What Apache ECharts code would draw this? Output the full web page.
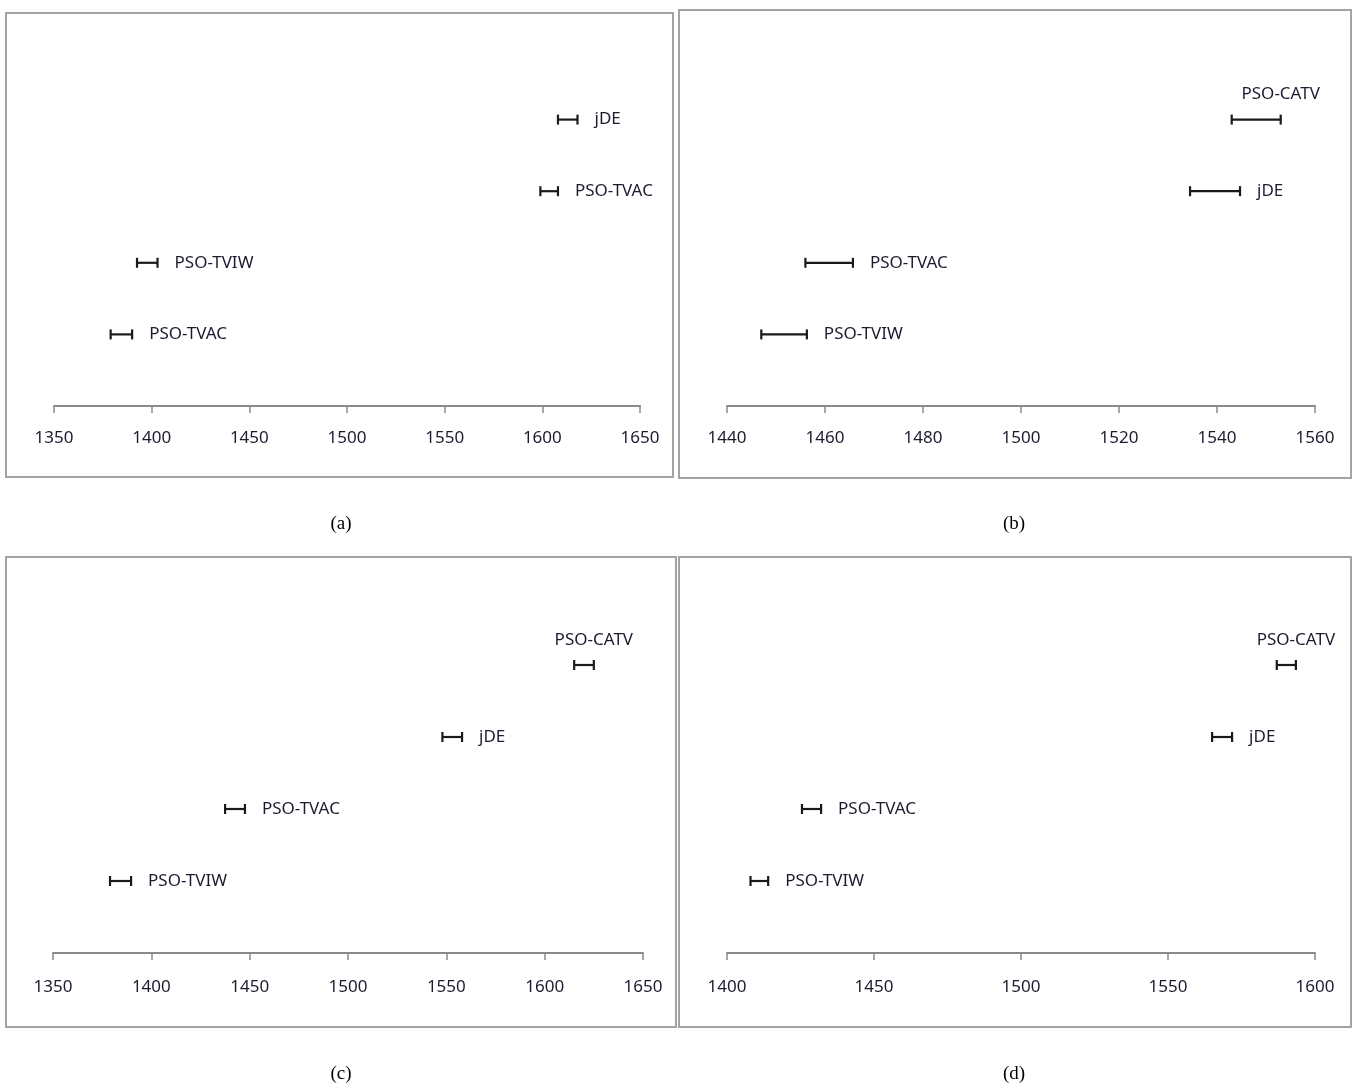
<!DOCTYPE html>
<html>
<head>
<meta charset="utf-8">
<script src="https://cdn.jsdelivr.net/npm/echarts@6/dist/echarts.min.js"></script>
<style>
  html, body { margin: 0; padding: 0; background: #fff; }
  #chart { width: 1354px; height: 1088px; }
</style>
</head>
<body>
<div id="chart"></div>
<script>
// Confidence intervals of the mean result for each algorithm, four test cases.
// Rows are listed bottom to top (row 1 sits just above the axis).

// (a)
const namesA = ['PSO-TVAC', 'PSO-TVIW', 'PSO-TVAC', 'jDE'];
const lowA   = [1379, 1392.5, 1599, 1608];
const highA  = [1390, 1403, 1608, 1618];
const ticksA = { min: 1350, max: 1650, interval: 50 };

// (b)
const namesB = ['PSO-TVIW', 'PSO-TVAC', 'jDE', 'PSO-CATV'];
const lowB   = [1447, 1456, 1534.5, 1543];
const highB  = [1456.3, 1465.7, 1544.7, 1553];
const ticksB = { min: 1440, max: 1560, interval: 20 };

// (c)
const namesC = ['PSO-TVIW', 'PSO-TVAC', 'jDE', 'PSO-CATV'];
const lowC   = [1379, 1437.5, 1548, 1615];
const highC  = [1389.7, 1447.6, 1558, 1625];
const ticksC = { min: 1350, max: 1650, interval: 50 };

// (d)
const namesD = ['PSO-TVIW', 'PSO-TVAC', 'jDE', 'PSO-CATV'];
const lowD   = [1408, 1425.5, 1565, 1587];
const highD  = [1414, 1432, 1571.8, 1593.5];
const ticksD = { min: 1400, max: 1600, interval: 50 };

// The top row's label sits above its bar when the name is PSO-CATV.
const labelAbove = name => name === 'PSO-CATV';

const panels = [
  { names: namesA, low: lowA, high: highA, ticks: ticksA, labelMargin: 24, grid: { left: 54, top: 48, width: 586, height: 358 }, caption: '(a)', cx: 341, cy: 524 },
  { names: namesB, low: lowB, high: highB, ticks: ticksB, labelMargin: 24, grid: { left: 727, top: 48, width: 588, height: 358 }, caption: '(b)', cx: 1014, cy: 524 },
  { names: namesC, low: lowC, high: highC, ticks: ticksC, labelMargin: 26, grid: { left: 53, top: 593, width: 590, height: 360 }, caption: '(c)', cx: 341, cy: 1074 },
  { names: namesD, low: lowD, high: highD, ticks: ticksD, labelMargin: 26, grid: { left: 727, top: 593, width: 588, height: 360 }, caption: '(d)', cx: 1014, cy: 1074 }
];

const labelFont = '"Noto Sans", "Open Sans", sans-serif';
const textColor = '#1c1c30';

function renderBar(params, api) {
  const lo = api.value(0), hi = api.value(1), row = api.value(2);
  const name = panels[params.seriesIndex].names[params.dataIndex];
  const p0 = api.coord([lo, row]);
  const p1 = api.coord([hi, row]);
  const cap = 5;
  const lineStyle = { stroke: '#1a1a1a', lineWidth: 2.2 };
  const above = labelAbove(name);
  return {
    type: 'group',
    children: [
      { type: 'line', shape: { x1: p0[0], y1: p0[1], x2: p1[0], y2: p1[1] }, style: lineStyle },
      { type: 'line', shape: { x1: p0[0], y1: p0[1] - cap, x2: p0[0], y2: p0[1] + cap }, style: lineStyle },
      { type: 'line', shape: { x1: p1[0], y1: p1[1] - cap, x2: p1[0], y2: p1[1] + cap }, style: lineStyle },
      {
        type: 'text',
        x: above ? p1[0] : p1[0] + 17,
        y: above ? p1[1] - 25 : p1[1],
        style: {
          text: name,
          fill: textColor,
          fontSize: 17,
          fontFamily: labelFont,
          align: above ? 'center' : 'left',
          verticalAlign: 'middle'
        }
      }
    ]
  };
}

const option = {
  backgroundColor: '#ffffff',
  animation: false,
  grid: panels.map(p => Object.assign({ containLabel: false }, p.grid)),
  xAxis: panels.map((p, i) => ({
    type: 'value',
    gridIndex: i,
    min: p.ticks.min,
    max: p.ticks.max,
    interval: p.ticks.interval,
    axisLine: { show: true, lineStyle: { color: '#8a8a8a', width: 2 } },
    axisTick: { show: true, inside: false, length: 7, lineStyle: { color: '#8a8a8a', width: 1.5 } },
    axisLabel: {
      margin: p.labelMargin,
      fontSize: 17,
      color: textColor,
      fontFamily: labelFont,
      formatter: v => String(v)
    },
    splitLine: { show: false }
  })),
  yAxis: panels.map((p, i) => ({
    type: 'value',
    gridIndex: i,
    min: 0,
    max: 5,
    show: false,
    splitLine: { show: false }
  })),
  series: panels.map((p, i) => ({
    type: 'custom',
    xAxisIndex: i,
    yAxisIndex: i,
    renderItem: renderBar,
    encode: { x: [0, 1], y: 2 },
    data: p.low.map((lo, k) => [lo, p.high[k], k + 1]),
    clip: false
  })),
  graphic: [
    { type: 'rect', shape: { x: 6, y: 13, width: 667, height: 464 }, style: { fill: 'none', stroke: '#a3a3a3', lineWidth: 2 } },
    { type: 'rect', shape: { x: 679, y: 10, width: 672, height: 468 }, style: { fill: 'none', stroke: '#a3a3a3', lineWidth: 2 } },
    { type: 'rect', shape: { x: 6, y: 557, width: 670, height: 470 }, style: { fill: 'none', stroke: '#a3a3a3', lineWidth: 2 } },
    { type: 'rect', shape: { x: 679, y: 557, width: 672, height: 470 }, style: { fill: 'none', stroke: '#a3a3a3', lineWidth: 2 } }
  ].concat(panels.map(p => ({
    type: 'text',
    x: p.cx,
    y: p.cy,
    style: {
      text: p.caption,
      fill: '#000',
      fontSize: 19,
      fontFamily: '"Liberation Serif", "DejaVu Serif", serif',
      align: 'center',
      verticalAlign: 'middle'
    }
  })))
};

const chart = echarts.init(document.getElementById('chart'), null, { renderer: 'canvas' });
chart.setOption(option);
</script>
</body>
</html>
